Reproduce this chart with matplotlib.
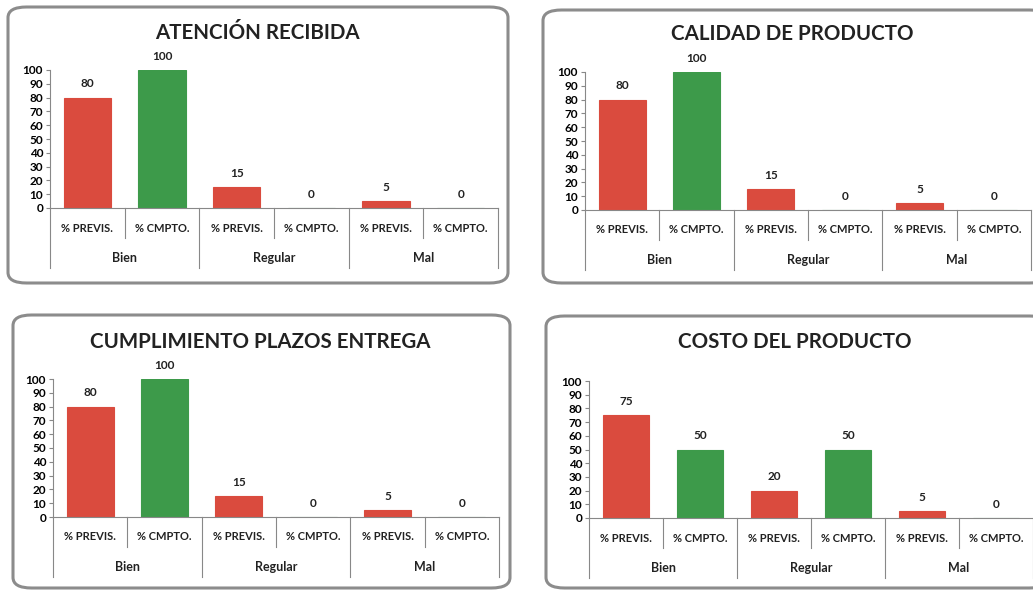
import matplotlib.pyplot as plt
from matplotlib.patches import FancyBboxPatch
from matplotlib.transforms import blended_transform_factory

plt.rcParams["font.family"] = ["Lato", "DejaVu Sans"]

groups = ["Bien", "Regular", "Mal"]
subcats = ["% PREVIS.", "% CMPTO."]
yticks = [0, 10, 20, 30, 40, 50, 60, 70, 80, 90, 100]

titles = ["ATENCIÓN RECIBIDA", "CALIDAD DE PRODUCTO",
          "CUMPLIMIENTO PLAZOS ENTREGA", "COSTO DEL PRODUCTO"]
atencion = [80, 100, 15, 0, 5, 0]
calidad = [80, 100, 15, 0, 5, 0]
plazos = [80, 100, 15, 0, 5, 0]
costo = [75, 50, 20, 50, 5, 0]

RED = "#DA4B3E"
GREEN = "#3D9A4A"
W, H = 1033, 590

# pixel layout: box (x0, y0, x1, y1), axes (left, right, y_zero, y_hundred), title (x, y)
layout = [
    ((8, 7, 508, 283), (50, 498, 208, 70), (257, 33)),
    ((543, 10, 1048, 283), (585, 1031, 210, 72), (792, 34)),
    ((13, 315, 510, 588), (53, 499, 517, 379), (260, 342)),
    ((546, 316, 1048, 588), (589, 1033, 518, 381), (795, 342)),
]


def draw_panel(fig, values, title, box, axpos, tpos):
    bx0, by0, bx1, by1 = box
    frame = FancyBboxPatch((bx0 / W, 1 - by1 / H), (bx1 - bx0) / W, (by1 - by0) / H,
                           boxstyle="round,pad=0,rounding_size=0.018",
                           transform=fig.transFigure, facecolor="white",
                           edgecolor="#8c8c8c", linewidth=2.2, zorder=-5)
    fig.patches.append(frame)
    fig.text(tpos[0] / W, 1 - tpos[1] / H, title, ha="center", va="center",
             fontsize=14.8, fontweight="bold", color="#222222")

    left, right, y0, y100 = axpos
    ax = fig.add_axes([left / W, 1 - y0 / H, (right - left) / W, (y0 - y100) / H])
    ax.set_zorder(2)
    ax.patch.set_alpha(0)
    n = len(values)
    x = list(range(n))
    colors = [RED if i % 2 == 0 else GREEN for i in x]
    bars = ax.bar(x, values, width=0.63, color=colors, edgecolor=colors, linewidth=0.8)
    for b, v in zip(bars, values):
        ax.annotate(f"{v}", (b.get_x() + b.get_width() / 2, v), xytext=(0, 6),
                    textcoords="offset points", ha="center", va="bottom",
                    fontsize=8.5, fontweight="bold", color="#222222")
    ax.set_xlim(-0.5, n - 0.5)
    ax.set_ylim(0, 100)
    ax.set_yticks(yticks)
    ax.tick_params(axis="y", labelsize=8.5, length=3, width=0.8, color="#888888", pad=2)
    for lab in ax.get_yticklabels():
        lab.set_fontweight("bold")
    ax.set_xticks([])
    for s in ["top", "right"]:
        ax.spines[s].set_visible(False)
    ax.spines["left"].set_color("#888888")
    ax.spines["bottom"].set_color("#888888")

    # two-level category axis
    px = 1 / (y0 - y100)  # one pixel in axes-fraction units
    trans = blended_transform_factory(ax.transData, ax.transAxes)
    for i in x:
        ax.text(i, -20 * px, subcats[i % 2], transform=trans, ha="center", va="center",
                fontsize=8, fontweight="bold", color="#222222")
    for g, name in enumerate(groups):
        ax.text(2 * g + 0.5, -50 * px, name, transform=trans, ha="center", va="center",
                fontsize=9, fontweight="bold", color="#222222")
    for i in range(n + 1):
        xb = i - 0.5
        depth = 60 if i % 2 == 0 else 30
        ax.plot([xb, xb], [0, -depth * px], transform=trans, clip_on=False,
                color="#888888", linewidth=0.8)
    return ax


fig = plt.figure(figsize=(W / 100, H / 100), dpi=100)
all_values = [atencion, calidad, plazos, costo]
for vals, t, (box, axpos, tpos) in zip(all_values, titles, layout):
    draw_panel(fig, vals, t, box, axpos, tpos)

fig.savefig("out.png", dpi=100)
